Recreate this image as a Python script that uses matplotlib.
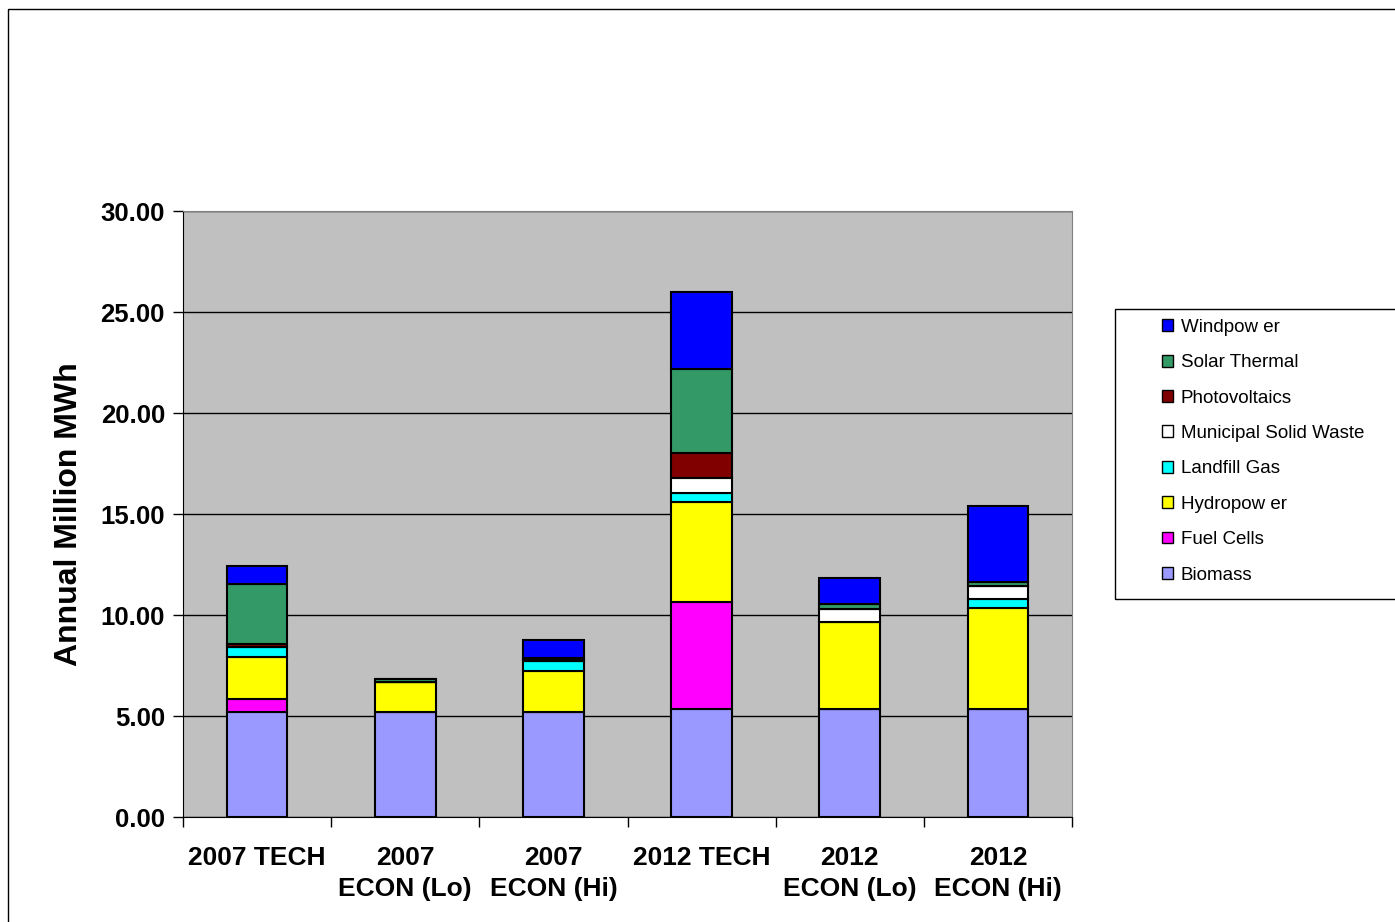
import numpy as np
import matplotlib
matplotlib.use('Agg')
import matplotlib.pyplot as plt
from matplotlib.patches import Patch, Rectangle

plt.rcParams['font.family'] = ['Liberation Sans', 'DejaVu Sans']

# categories and stacked series (annual million MWh)
categories = ['2007 TECH', '2007\nECON (Lo)', '2007\nECON (Hi)',
              '2012 TECH', '2012\nECON (Lo)', '2012\nECON (Hi)']

biomass = [5.20, 5.20, 5.18, 5.35, 5.33, 5.33]
fuel_cells = [0.65, 0.00, 0.00, 5.29, 0.00, 0.00]
hydropower = [2.08, 1.47, 2.06, 4.95, 4.32, 5.04]
landfill_gas = [0.47, 0.00, 0.49, 0.43, 0.00, 0.42]
msw = [0.00, 0.00, 0.00, 0.74, 0.65, 0.66]
photovoltaics = [0.15, 0.00, 0.03, 1.26, 0.00, 0.00]
solar_thermal = [2.96, 0.17, 0.12, 4.14, 0.22, 0.16]
windpower = [0.92, 0.00, 0.88, 3.81, 1.29, 3.79]

series = [
    ('Biomass', biomass, '#9999FF'),
    ('Fuel Cells', fuel_cells, '#FF00FF'),
    ('Hydropow er', hydropower, '#FFFF00'),
    ('Landfill Gas', landfill_gas, '#00FFFF'),
    ('Municipal Solid Waste', msw, '#FFFFFF'),
    ('Photovoltaics', photovoltaics, '#800000'),
    ('Solar Thermal', solar_thermal, '#339966'),
    ('Windpow er', windpower, '#0000FF'),
]

fig = plt.figure(figsize=(13.95, 9.22), dpi=100)
W, H = 1395.0, 922.0
ax = fig.add_axes([183 / W, 1 - 817 / H, (1072 - 183) / W, (817 - 211) / H])
ax.set_facecolor('#C0C0C0')

x = np.arange(len(categories))
bottom = np.zeros(len(categories))
for name, vals, col in series:
    vals = np.array(vals)
    ax.bar(x, vals, width=0.41, bottom=bottom, color=col,
           edgecolor='black', linewidth=1.5, zorder=3)
    bottom += vals

ax.set_xlim(-0.5, len(categories) - 0.5)
ax.set_ylim(0, 30)
ax.set_yticks(np.arange(0, 31, 5))
ax.set_yticklabels(['{:.2f}'.format(v) for v in np.arange(0, 31, 5)],
                   fontsize=18.5, fontweight='bold')
ax.yaxis.grid(True, color='black', linewidth=1, zorder=1)

ax.set_xticks(x)
ax.set_xticklabels(categories, fontsize=19, fontweight='bold', linespacing=1.38)
ax.set_xticks(np.arange(-0.5, len(categories)), minor=True)
ax.tick_params(axis='x', which='major', length=0, pad=21)
ax.tick_params(axis='x', which='minor', length=7, width=1)
ax.tick_params(axis='y', length=7, width=1, pad=6)

for s in ['top', 'right']:
    ax.spines[s].set_color('#808080')
ax.spines['left'].set_color('black')
ax.spines['bottom'].set_color('black')

ax.set_ylabel('Annual Million MWh', fontsize=23, fontweight='bold', labelpad=12)

# outer chart frame
fig.add_artist(Rectangle((8 / W, -0.1), 1.2, 1 - 9 / H + 0.1,
                         transform=fig.transFigure, fill=False,
                         edgecolor='black', linewidth=1))

# legend frame and entries
fig.add_artist(Rectangle((1115 / W, 1 - 599 / H), 0.3, (599 - 309) / H,
                         transform=fig.transFigure, fill=False,
                         edgecolor='black', linewidth=1))
handles = [Patch(facecolor=c, edgecolor='black', linewidth=1, label=n)
           for n, v, c in reversed(series)]
fig.legend(handles=handles, loc='upper left',
           bbox_to_anchor=(1145 / W, 1 - 302 / H), frameon=False,
           fontsize=13.5, handlelength=0.6, handleheight=0.6,
           handletextpad=0.4, labelspacing=0.98)

fig.savefig('out.png', dpi=100)
